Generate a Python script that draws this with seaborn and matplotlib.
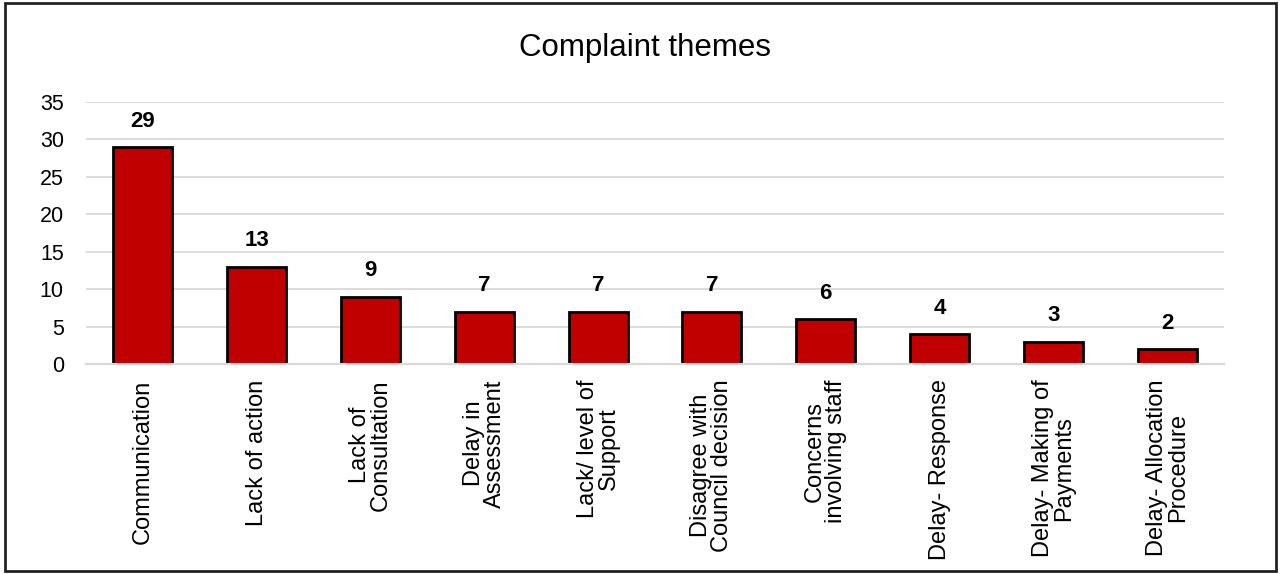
import matplotlib
matplotlib.use('Agg')
import matplotlib.pyplot as plt
import pandas as pd
import seaborn as sns
from matplotlib.patches import Rectangle

# Chart data
themes = ['Communication', 'Lack of action', 'Lack of\nConsultation', 'Delay in\nAssessment',
          'Lack/ level of\nSupport', 'Disagree with\nCouncil decision', 'Concerns\ninvolving staff',
          'Delay- Response', 'Delay- Making of\nPayments', 'Delay- Allocation\nProcedure']
counts = [29, 13, 9, 7, 7, 7, 6, 4, 3, 2]
y_ticks = [0, 5, 10, 15, 20, 25, 30, 35]

df = pd.DataFrame({'theme': themes, 'count': counts})

sns.set_style('white')
plt.rcParams['font.family'] = ['Liberation Sans', 'DejaVu Sans']
plt.rcParams['text.color'] = 'black'
plt.rcParams['xtick.color'] = 'black'
plt.rcParams['ytick.color'] = 'black'

fig = plt.figure(figsize=(12.8, 5.74), dpi=100)
ax = fig.add_axes([86/1280, 1 - 364/574, (1224 - 86)/1280, (364 - 102)/574])

sns.barplot(data=df, x='theme', y='count', color='#C00000', edgecolor='black',
            linewidth=2, width=0.52, saturation=1, ax=ax)

ax.set_ylim(0, 35)
ax.set_xlim(-0.5, len(themes) - 0.5)
ax.set_yticks(y_ticks)
ax.yaxis.grid(True, color='#d9d9d9', linewidth=1.3)
ax.set_axisbelow(True)
for s in ['top', 'right', 'left']:
    ax.spines[s].set_visible(False)
ax.spines['bottom'].set_color('#d9d9d9')
ax.spines['bottom'].set_linewidth(1.5)

ax.tick_params(axis='y', length=0, pad=16, labelsize=15.5, labelcolor='black')
ax.tick_params(axis='x', which='major', length=0, pad=11, labelsize=17, labelcolor='black')
ax.set_xticks([i - 0.5 for i in range(len(themes) + 1)], minor=True)
ax.tick_params(axis='x', which='minor', length=6, color='#d9d9d9', width=1.5)
ax.set_xticklabels(themes, rotation=90)
for t in ax.get_xticklabels():
    t.set_linespacing(0.95)
    t.set_multialignment('center')
ax.set_xlabel('')
ax.set_ylabel('')

ax.bar_label(ax.containers[0], fmt='%d', padding=11, fontsize=16, fontweight='bold', color='black')

fig.text(645/1280, 1 - 48/574, 'Complaint themes', ha='center', va='center', fontsize=22.5, color='black')

fig.patches.append(Rectangle((5/1280, 3/574), 1271/1280, 568/574, transform=fig.transFigure,
                             fill=False, edgecolor='#222222', linewidth=2))

fig.savefig('out.png', dpi=100)
